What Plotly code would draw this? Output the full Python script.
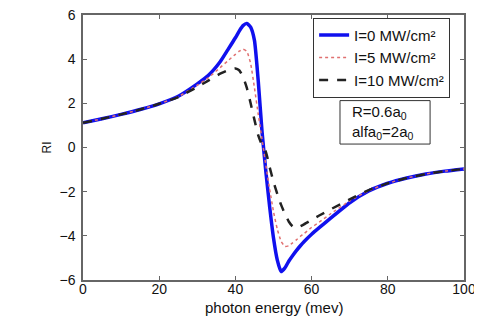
import plotly.graph_objects as go

energy = [0, 5, 10, 15, 20, 25, 30, 33, 36, 38, 40, 41, 42, 43, 44, 45, 46, 47, 48, 49,
          50, 51, 52, 53, 54, 55, 56, 57, 58, 60, 62, 65, 70, 75, 80, 85, 90, 95, 100]

ri_i0 = [1.12, 1.30, 1.50, 1.72, 1.98, 2.32, 2.88, 3.28, 3.88, 4.42, 4.97, 5.27, 5.52, 5.62,
         5.45, 4.85, 3.00, 0.70, -1.10, -2.70, -4.10, -5.10, -5.62, -5.45, -5.15, -4.90,
         -4.67, -4.46, -4.27, -3.93, -3.63, -3.20, -2.50, -1.97, -1.62, -1.38, -1.20, -1.07, -0.97]

ri_i5 = [1.12, 1.30, 1.50, 1.72, 1.98, 2.30, 2.82, 3.17, 3.62, 3.92, 4.22, 4.36, 4.45, 4.35,
         3.80, 2.70, 1.50, 0.35, -0.80, -1.90, -2.90, -3.70, -4.25, -4.48, -4.45, -4.32,
         -4.18, -4.03, -3.90, -3.62, -3.38, -3.00, -2.42, -1.95, -1.62, -1.38, -1.20, -1.07, -0.97]

ri_i10 = [1.12, 1.30, 1.50, 1.72, 1.98, 2.28, 2.74, 3.04, 3.34, 3.49, 3.58, 3.50, 3.20, 2.70,
          2.00, 1.25, 0.55, 0.10, -0.20, -0.90, -1.55, -2.10, -2.60, -3.00, -3.35, -3.57,
          -3.63, -3.57, -3.48, -3.28, -3.08, -2.80, -2.35, -1.93, -1.62, -1.38, -1.20, -1.07, -0.97]

names = ["I=0 MW/cm²", "I=5 MW/cm²", "I=10 MW/cm²"]
x_ticks = [0, 20, 40, 60, 80, 100]
y_ticks = [-6, -4, -2, 0, 2, 4, 6]

FONT = "Liberation Sans, Arial, sans-serif"

fig = go.Figure()
fig.add_trace(go.Scatter(x=energy, y=ri_i0, mode="lines", name=names[0],
                         line=dict(color="#1010ee", width=3.5, shape="spline", smoothing=0.5)))
fig.add_trace(go.Scatter(x=energy, y=ri_i5, mode="lines", name=names[1],
                         line=dict(color="#e07070", width=1.5, dash="dot", shape="spline", smoothing=0.5)))
fig.add_trace(go.Scatter(x=energy, y=ri_i10, mode="lines", name=names[2],
                         line=dict(color="#222222", width=2.5, dash="dash", shape="spline", smoothing=0.5)))

axis_common = dict(showgrid=False, zeroline=False, showline=True, linecolor="#666666",
                   linewidth=1.5, mirror="ticks", ticks="inside", ticklen=4,
                   tickcolor="#666666", automargin=False, ticklabeloverflow="allow",
                   tickfont=dict(family=FONT, size=14, color="#111"))

fig.update_xaxes(range=[0, 100], tickvals=x_ticks, ticklabelstandoff=-5, **axis_common)
fig.update_yaxes(range=[-6, 6], tickvals=y_ticks, ticklabelstandoff=3, **axis_common)

# axis titles
fig.add_annotation(xref="paper", yref="paper", x=0.5, y=-0.102,
                   xanchor="center", yanchor="middle",
                   text="photon energy (mev)", showarrow=False,
                   font=dict(family=FONT, size=15, color="#111"))
fig.add_annotation(xref="paper", yref="paper", x=-0.0945, y=0.5,
                   xanchor="center", yanchor="middle", textangle=-90,
                   text="RI", showarrow=False,
                   font=dict(family=FONT, size=12, color="#111"))

# parameter box
fig.add_shape(type="rect", xref="paper", yref="paper",
              x0=0.6745, x1=0.911, y0=0.513, y1=0.677,
              line=dict(color="#333", width=1), fillcolor="white", layer="above")
fig.add_annotation(xref="paper", yref="paper", x=0.70, y=0.595,
                   xanchor="left", yanchor="middle",
                   text="R=0.6a<sub>0</sub><br>alfa<sub>0</sub>=2a<sub>0</sub>",
                   showarrow=False, align="left",
                   font=dict(family=FONT, size=15, color="#111"))

# partial glyph cut off at the lower-left edge of the original figure
fig.add_annotation(xref="paper", yref="paper", x=-0.18, y=-0.205,
                   xanchor="center", yanchor="middle",
                   text="C", textangle=-90, showarrow=False,
                   font=dict(family=FONT, size=16, color="#111"))

fig.update_layout(
    width=482, height=324,
    margin=dict(l=75, r=26, t=7, b=52),
    paper_bgcolor="white", plot_bgcolor="white",
    showlegend=True,
    legend=dict(x=0.604, y=0.99, xanchor="left", yanchor="top",
                bgcolor="white", bordercolor="#333", borderwidth=1,
                font=dict(family=FONT, size=15, color="#111"),
                tracegroupgap=0, itemwidth=30),
)

fig.write_html("out.html")
